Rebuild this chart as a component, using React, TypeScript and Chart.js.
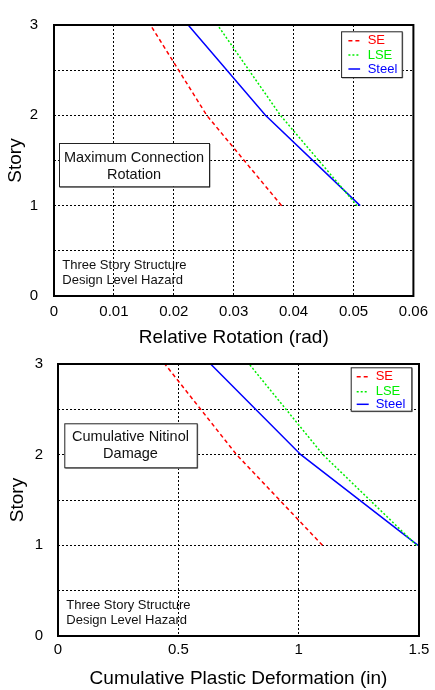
import React, { useEffect, useRef } from "react";
import { Chart, registerables } from "chart.js";

Chart.register(...registerables);

// ---- data ----
const STORIES = [1, 2, 3];
const ROT_SE = [0.038, 0.0255, 0.0161];
const ROT_LSE = [0.0506, 0.0378, 0.0273];
const ROT_STEEL = [0.0511, 0.0353, 0.0224];
const CPD_SE = [1.099, 0.742, 0.444];
const CPD_LSE = [1.49, 1.101, 0.794];
const CPD_STEEL = [1.496, 1.009, 0.634];
const ROT_TICKS = [0, 0.01, 0.02, 0.03, 0.04, 0.05, 0.06];
const CPD_TICKS = [0, 0.5, 1, 1.5];
const STORY_TICKS = [0, 0.5, 1, 1.5, 2, 2.5, 3];
const SERIES_NAMES = ["SE", "LSE", "Steel"];
const NOTE_LINES = ["Three Story Structure", "Design Level Hazard"];

const FONT = '"Liberation Sans", Arial, Helvetica, sans-serif';
const COLORS = ["#ff0000", "#00ee00", "#0000ff"];
const DASHES = [[4, 3], [2, 2], []];

type PanelCfg = {
  top: number;
  height: number;
  padTop: number;
  padRight: number;
  yAxisW: number;
  xAxisH: number;
  xMin: number;
  xMax: number;
  xTicks: number[];
  series: number[][];
  xTitle: string;
  yTitlePad: number;
  xTickPad: number;
  yTickPad: number;
  titleBoxLines: string[];
  titleBox: { dx: number; dy: number; w: number; h: number; cx: number; rows: number[] };
  legend: { dxr: number; dy: number; w: number; h: number; rows: number[]; s0: number; s1: number; tx: number };
};

const PANELS: PanelCfg[] = [
  {
    top: 0,
    height: 349,
    padTop: 16,
    padRight: 20,
    yAxisW: 54,
    xAxisH: 53,
    xMin: 0,
    xMax: 0.06,
    xTicks: ROT_TICKS,
    series: [ROT_SE, ROT_LSE, ROT_STEEL],
    xTitle: "Relative Rotation (rad)",
    yTitlePad: 4,
    xTickPad: 7,
    yTickPad: 16,
    titleBoxLines: ["Maximum Connection", "Rotation"],
    titleBox: { dx: 5, dy: 118, w: 150, h: 43.3, cx: 75, rows: [15.3, 31.7] },
    legend: { dxr: 72.3, dy: 6.3, w: 60.6, h: 45.7, rows: [9.4, 23.7, 37.7], s0: 7.3, s1: 19, tx: 26.6 },
  },
  {
    top: 340,
    height: 350,
    padTop: 14,
    padRight: 16,
    yAxisW: 58,
    xAxisH: 54,
    xMin: 0,
    xMax: 1.5,
    xTicks: CPD_TICKS,
    series: [CPD_SE, CPD_LSE, CPD_STEEL],
    xTitle: "Cumulative Plastic Deformation (in)",
    yTitlePad: 6,
    xTickPad: 5,
    yTickPad: 15,
    titleBoxLines: ["Cumulative Nitinol", "Damage"],
    titleBox: { dx: 6.3, dy: 59.3, w: 132.4, h: 44, cx: 66.2, rows: [14, 30.7] },
    legend: { dxr: 68.3, dy: 3.3, w: 60.6, h: 43.4, rows: [9.4, 24.4, 37], s0: 6, s1: 18, tx: 25 },
  },
];

const fmt = (v: number) => String(Number(Number(v).toFixed(3)));

function makeDecor(cfg: PanelCfg) {
  return {
    id: "decor",
    afterDatasetsDraw(chart: any) {
      const { ctx, chartArea: ca } = chart;
      ctx.save();
      ctx.setLineDash([]);
      // frame
      ctx.strokeStyle = "#000";
      ctx.lineWidth = 2;
      ctx.strokeRect(ca.left, ca.top, ca.right - ca.left, ca.bottom - ca.top);

      // title box
      const tb = cfg.titleBox;
      const bx = ca.left + tb.dx;
      const by = ca.top + tb.dy;
      ctx.fillStyle = "#fff";
      ctx.fillRect(bx, by, tb.w, tb.h);
      ctx.strokeStyle = "#888";
      ctx.lineWidth = 1;
      ctx.beginPath();
      ctx.moveTo(bx + tb.w + 1, by + 1);
      ctx.lineTo(bx + tb.w + 1, by + tb.h + 1);
      ctx.lineTo(bx + 1, by + tb.h + 1);
      ctx.stroke();
      ctx.strokeStyle = "#222";
      ctx.strokeRect(bx + 0.5, by + 0.5, tb.w, tb.h);
      ctx.fillStyle = "#111";
      ctx.font = `14.5px ${FONT}`;
      ctx.textAlign = "center";
      ctx.textBaseline = "middle";
      cfg.titleBoxLines.forEach((t, i) => ctx.fillText(t, bx + tb.cx, by + tb.rows[i]));

      // note text
      ctx.font = `13px ${FONT}`;
      ctx.textAlign = "left";
      ctx.fillStyle = "#111";
      NOTE_LINES.forEach((t, i) => ctx.fillText(t, ca.left + 8.3, ca.bottom - 30.3 + i * 15));

      // legend
      const lg = cfg.legend;
      const lx = ca.right - lg.dxr;
      const ly = ca.top + lg.dy;
      ctx.fillStyle = "#fff";
      ctx.fillRect(lx, ly, lg.w, lg.h);
      ctx.strokeStyle = "#888";
      ctx.beginPath();
      ctx.moveTo(lx + lg.w + 1, ly + 1);
      ctx.lineTo(lx + lg.w + 1, ly + lg.h + 1);
      ctx.lineTo(lx + 1, ly + lg.h + 1);
      ctx.stroke();
      ctx.strokeStyle = "#222";
      ctx.strokeRect(lx + 0.5, ly + 0.5, lg.w, lg.h);
      SERIES_NAMES.forEach((name, i) => {
        const yy = ly + lg.rows[i];
        ctx.strokeStyle = COLORS[i];
        ctx.lineWidth = 1.5;
        ctx.setLineDash(DASHES[i]);
        ctx.beginPath();
        ctx.moveTo(lx + lg.s0, yy);
        ctx.lineTo(lx + lg.s1, yy);
        ctx.stroke();
        ctx.setLineDash([]);
        ctx.fillStyle = COLORS[i];
        ctx.font = `13px ${FONT}`;
        ctx.textAlign = "left";
        ctx.textBaseline = "middle";
        ctx.fillText(name, lx + lg.tx, yy);
      });
      ctx.restore();
    },
  };
}

function Panel({ cfg }: { cfg: PanelCfg }) {
  const ref = useRef<HTMLCanvasElement>(null);
  useEffect(() => {
    const canvas = ref.current!;
    const chart = new Chart(canvas, {
      type: "scatter",
      data: {
        datasets: cfg.series.map((vals, i) => ({
          label: SERIES_NAMES[i],
          data: STORIES.map((s, j) => ({ x: vals[j], y: s })),
          showLine: true,
          borderColor: COLORS[i],
          backgroundColor: COLORS[i],
          borderWidth: 1.5,
          borderDash: DASHES[i],
          pointRadius: 0,
          tension: 0,
        })),
      },
      options: {
        responsive: false,
        animation: false,
        devicePixelRatio: 1,
        layout: { padding: { left: 0, right: cfg.padRight, top: cfg.padTop, bottom: 0 } },
        plugins: { legend: { display: false }, tooltip: { enabled: false } },
        scales: {
          x: {
            type: "linear",
            min: cfg.xMin,
            max: cfg.xMax,
            afterBuildTicks: (s: any) => {
              s.ticks = cfg.xTicks.map((v) => ({ value: v }));
            },
            afterFit: (s: any) => {
              s.height = cfg.xAxisH;
            },
            ticks: {
              color: "#000",
              font: { family: FONT, size: 15 },
              padding: cfg.xTickPad,
              autoSkip: false,
              maxRotation: 0,
              callback: (v: any) => fmt(v),
            },
            grid: { color: "#000", lineWidth: 1, drawTicks: false },
            border: { display: false, dash: [2, 2] },
            title: {
              display: true,
              text: cfg.xTitle,
              color: "#000",
              font: { family: FONT, size: 19 },
              padding: { top: 0, bottom: 0 },
            },
          },
          y: {
            type: "linear",
            min: 0,
            max: 3,
            afterBuildTicks: (s: any) => {
              s.ticks = STORY_TICKS.map((v) => ({ value: v }));
            },
            afterFit: (s: any) => {
              s.width = cfg.yAxisW;
            },
            ticks: {
              color: "#000",
              font: { family: FONT, size: 15 },
              padding: cfg.yTickPad,
              autoSkip: false,
              callback: (v: any) => (Number.isInteger(Number(v)) ? fmt(v) : ""),
            },
            grid: { color: "#000", lineWidth: 1, drawTicks: false },
            border: { display: false, dash: [2, 2] },
            title: {
              display: true,
              text: "Story",
              color: "#000",
              font: { family: FONT, size: 19 },
              padding: { top: cfg.yTitlePad, bottom: 0 },
            },
          },
        },
      },
      plugins: [makeDecor(cfg)],
    } as any);
    return () => chart.destroy();
  }, [cfg]);
  return (
    <canvas
      ref={ref}
      width={435}
      height={cfg.height}
      style={{ position: "absolute", left: 0, top: cfg.top, width: 435, height: cfg.height }}
    />
  );
}

export default function App() {
  return (
    <div style={{ position: "absolute", left: 0, top: 0, width: 435, height: 690, background: "#fff" }}>
      {PANELS.map((p, i) => (
        <Panel key={i} cfg={p} />
      ))}
    </div>
  );
}
